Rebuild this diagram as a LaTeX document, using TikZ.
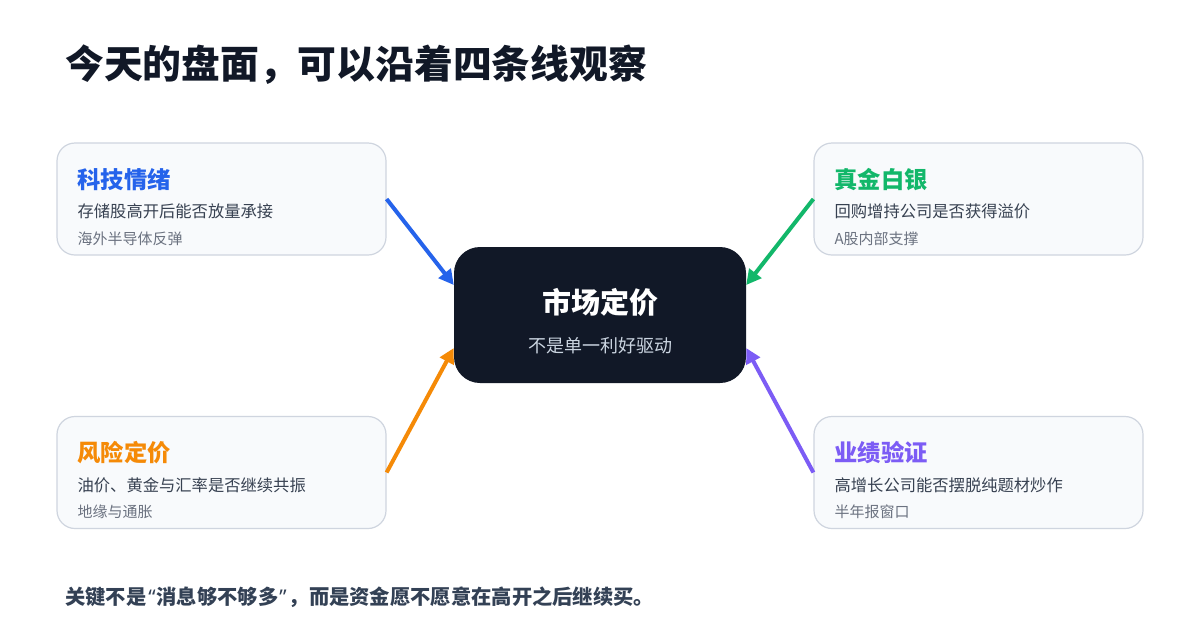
\documentclass[tikz,border=0pt]{standalone}
\usepackage{fontspec}
\setmainfont{Noto Sans CJK SC}
\newfontfamily\quotefont{Noto Sans}
\usetikzlibrary{arrows.meta}
\definecolor{cardfill}{HTML}{F8FAFC}
\definecolor{cardline}{HTML}{CFD5DF}
\definecolor{corefill}{HTML}{111827}
\definecolor{headink}{HTML}{111827}
\definecolor{bodyink}{HTML}{374151}
\definecolor{softink}{HTML}{6B7280}
\definecolor{noteink}{HTML}{334155}
\definecolor{subink}{HTML}{CBD5E1}
\definecolor{techblue}{HTML}{2563EB}
\definecolor{goldgreen}{HTML}{12B76A}
\definecolor{riskorange}{HTML}{F58A07}
\definecolor{earnpurple}{HTML}{7C5CF5}
\newcommand{\openq}{{\kern2pt\quotefont\bfseries “\kern1pt}}
\newcommand{\closeq}{{\kern1pt\quotefont\bfseries ”\kern2pt}}
\begin{document}
\begin{tikzpicture}[x=1pt,y=-1pt,
  card/.style={draw=cardline,fill=cardfill,line width=1.2pt,rounded corners=18pt,
    minimum width=329pt,minimum height=112pt,inner sep=0pt},
  core/.style={fill=corefill,rounded corners=26pt,minimum width=292pt,
    minimum height=136pt,inner sep=0pt},
  cardtitle/.style={anchor=west,inner sep=0pt,font=\fontsize{23.3}{26}\selectfont\bfseries},
  cardline/.style={anchor=west,inner sep=0pt,text=bodyink,font=\fontsize{16.3}{19}\selectfont},
  cardnote/.style={anchor=west,inner sep=0pt,text=softink,font=\fontsize{15}{18}\selectfont},
  flow/.style={line width=4pt,-{Triangle[length=15pt,width=15pt]}}]
\fill[white] (0,0) rectangle (1200,630);
\useasboundingbox (0,0) rectangle (1200,630);
% headline
\node[anchor=west,inner sep=0pt,text=headink,font=\fontsize{38.8}{42}\selectfont\bfseries]
  (headline) at (65,65) {今天的盘面，可以沿着四条线观察};
% four cards
\node[card] (keji) at (221.5,199) {};
\node[card] (jinyin) at (978.5,199) {};
\node[card] (fengxian) at (221.5,472.5) {};
\node[card] (yeji) at (978.5,472.5) {};
\node[cardtitle,text=techblue] at ([shift={(21pt,-37pt)}]keji.north west) {科技情绪};
\node[cardline] at ([shift={(21pt,-69pt)}]keji.north west) {存储股高开后能否放量承接};
\node[cardnote] at ([shift={(21pt,-96pt)}]keji.north west) {海外半导体反弹};
\node[cardtitle,text=goldgreen] at ([shift={(21pt,-37pt)}]jinyin.north west) {真金白银};
\node[cardline] at ([shift={(21pt,-69pt)}]jinyin.north west) {回购增持公司是否获得溢价};
\node[cardnote] at ([shift={(21pt,-96pt)}]jinyin.north west) {A股内部支撑};
\node[cardtitle,text=riskorange] at ([shift={(21pt,-37pt)}]fengxian.north west) {风险定价};
\node[cardline] at ([shift={(21pt,-69pt)}]fengxian.north west) {油价、黄金与汇率是否继续共振};
\node[cardnote] at ([shift={(21pt,-96pt)}]fengxian.north west) {地缘与通胀};
\node[cardtitle,text=earnpurple] at ([shift={(21pt,-37pt)}]yeji.north west) {业绩验证};
\node[cardline] at ([shift={(21pt,-69pt)}]yeji.north west) {高增长公司能否摆脱纯题材炒作};
\node[cardnote] at ([shift={(21pt,-96pt)}]yeji.north west) {半年报窗口};
% centre
\node[core] (core) at (600,315) {};
\node[inner sep=0pt,text=white,font=\fontsize{29}{32}\selectfont\bfseries]
  at ([yshift=13pt]core.center) {市场定价};
\node[inner sep=0pt,text=subink,font=\fontsize{18}{21}\selectfont]
  at ([yshift=-31pt]core.center) {不是单一利好驱动};
% arrows
\draw[flow,techblue] (keji.east) -- ([yshift=30pt]core.west);
\draw[flow,goldgreen] (jinyin.west) -- ([yshift=30pt]core.east);
\draw[flow,riskorange] (fengxian.east) -- ([yshift=-33pt]core.west);
\draw[flow,earnpurple] (yeji.west) -- ([yshift=-33pt]core.east);
% closing note
\node[anchor=west,inner sep=0pt,text=noteink,font=\fontsize{20.3}{23}\selectfont\bfseries]
  (note) at (65,597) {关键不是\openq 消息够不够多\closeq ，而是资金愿不愿意在高开之后继续买。};
\end{tikzpicture}
\end{document}
